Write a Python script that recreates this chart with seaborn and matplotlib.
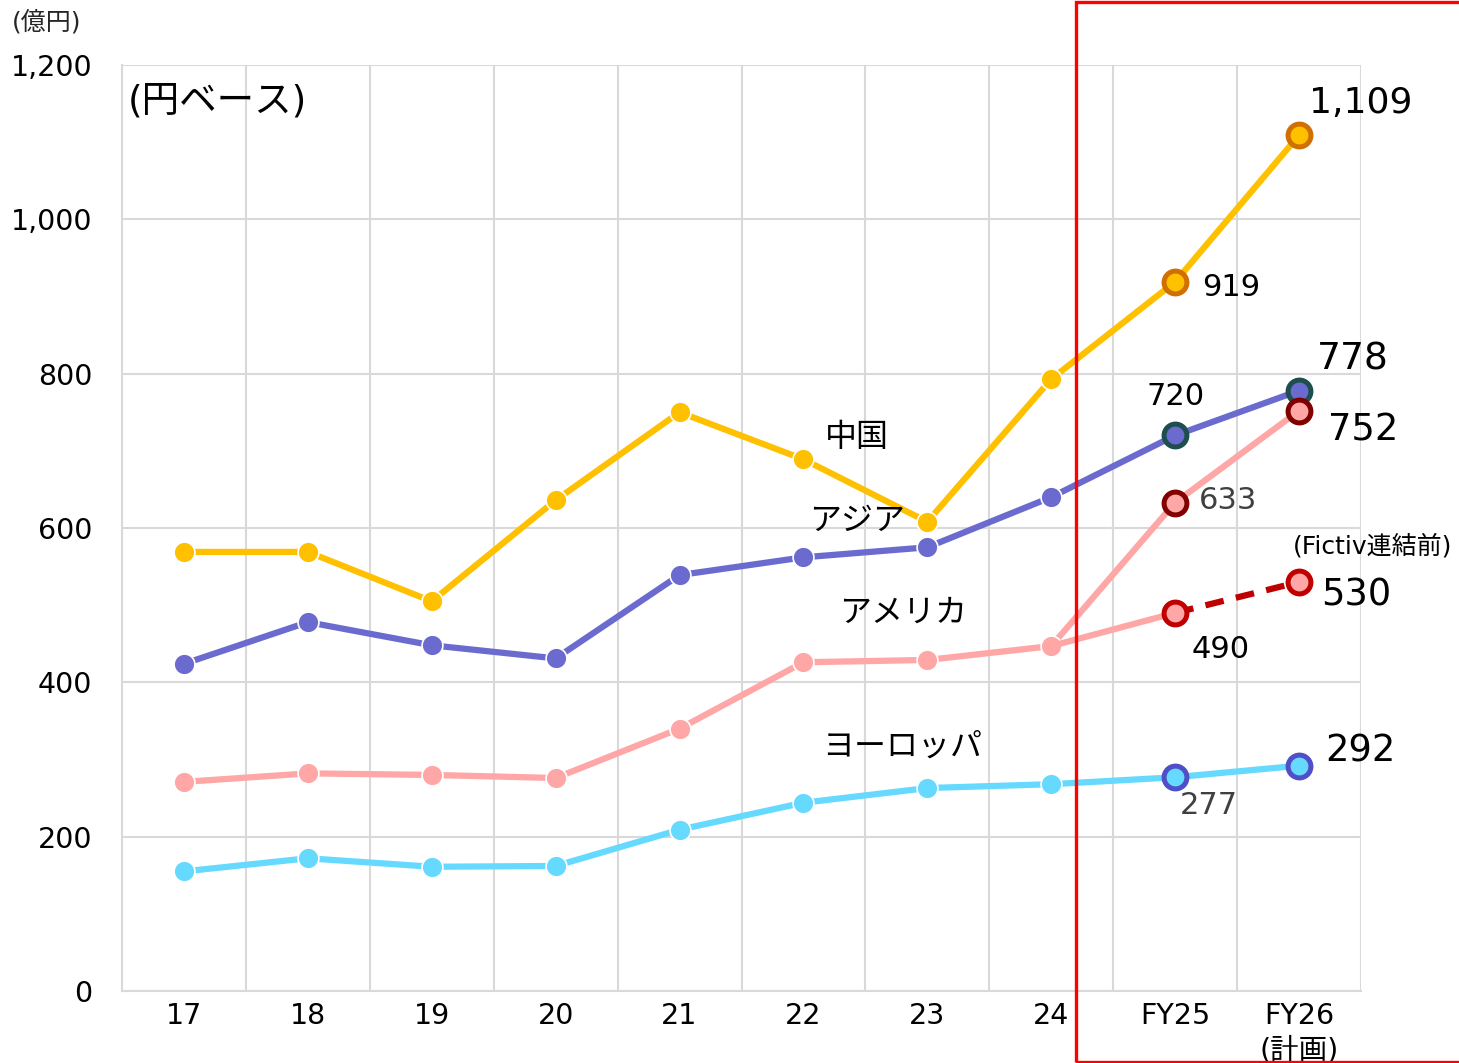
import matplotlib
matplotlib.use("Agg")
import matplotlib.pyplot as plt
import seaborn as sns
import pandas as pd
from matplotlib.patches import Rectangle

# data (億円)
years = ["17", "18", "19", "20", "21", "22", "23", "24", "FY25", "FY26\n(計画)"]
china = [569, 569, 505, 636, 750, 689, 608, 793, 919, 1109]
asia = [424, 478, 448, 431, 539, 562, 575, 640, 720, 778]
america = [271, 282, 280, 276, 340, 426, 429, 447, 633, 752]
america_pre = [447, 490, 530]   # 24, FY25, FY26 (Fictiv連結前)
europe = [155, 172, 161, 162, 209, 244, 263, 268, 277, 292]

sns.set_theme(style="white")
plt.rcParams["font.family"] = ["DejaVu Sans", "Noto Sans CJK JP"]

fig = plt.figure(figsize=(14.59, 10.63), dpi=100)
ax = fig.add_axes([122 / 1459, 1 - 991 / 1063, (1361 - 122) / 1459, (991 - 65) / 1063])

pos = list(range(len(years)))
df = pd.DataFrame({"pos": pos, "中国": china, "アジア": asia,
                   "アメリカ": america, "ヨーロッパ": europe})

c_china, c_asia, c_am, c_eu = "#FFC000", "#6B6BCF", "#FFA6A6", "#66D9FF"
lw, ms = 4.5, 15

for col, c in [("ヨーロッパ", c_eu), ("アメリカ", c_am), ("アジア", c_asia), ("中国", c_china)]:
    sns.lineplot(data=df, x="pos", y=col, ax=ax, color=c, linewidth=lw,
                 marker="o", markersize=ms, markeredgecolor="white", markeredgewidth=1.2)

# America before Fictiv consolidation
sns.lineplot(x=[7, 8], y=america_pre[:2], ax=ax, color=c_am, linewidth=lw)
sns.lineplot(x=[8, 9], y=america_pre[1:], ax=ax, color="#C00000", linewidth=lw,
             linestyle=(0, (3, 2)))

# highlighted forecast markers
special = [
    ([8, 9], china[8:], c_china, "#D07000"),
    ([8, 9], asia[8:], c_asia, "#1F4E4E"),
    ([8, 9], america[8:], c_am, "#800000"),
    ([8, 9], america_pre[1:], c_am, "#C00000"),
    ([8, 9], europe[8:], c_eu, "#4F4FC8"),
]
for xs, ys, fc, ec in special:
    sns.scatterplot(x=xs, y=ys, ax=ax, s=270, color=fc, edgecolor=ec,
                    linewidth=3.6, zorder=5)

ax.set_xlim(-0.5, 9.5)
ax.set_ylim(0, 1200)
ax.set_yticks(range(0, 1201, 200))
ax.set_yticklabels([f"{v:,}" for v in range(0, 1201, 200)])
ax.set_xticks(pos)
ax.set_xticklabels(years, linespacing=1.3)
ax.set_xticks([p + 0.5 for p in pos], minor=True)
ax.tick_params(axis="both", which="both", length=0, labelsize=20.5, colors="black")
ax.tick_params(axis="y", pad=21.5)
ax.tick_params(axis="x", pad=8)
ax.grid(axis="y", which="major", color="#D9D9D9", linewidth=1.5)
ax.grid(axis="x", which="minor", color="#D9D9D9", linewidth=1.5)
ax.grid(axis="x", which="major", visible=False)
for s in ax.spines.values():
    s.set_color("#D9D9D9")
    s.set_linewidth(1.5)
ax.spines["top"].set_visible(False)
ax.spines["right"].set_visible(False)
ax.set_xlabel("")
ax.set_ylabel("")

# value labels
labels = [
    (8.22, 912, "919", 22, "left", "black"),
    (9.5, 1151, "1,109", 26, "center", "black"),
    (8.0, 771, "720", 22, "center", "black"),
    (9.43, 819, "778", 27, "center", "black"),
    (9.23, 727, "752", 26.5, "left", "black"),
    (8.19, 636, "633", 22, "left", "#404040"),
    (9.59, 577, "(Fictiv連結前)", 18, "center", "black"),
    (9.18, 513, "530", 26.5, "left", "black"),
    (8.37, 443, "490", 22, "center", "black"),
    (9.21, 311, "292", 26.5, "left", "black"),
    (8.27, 240, "277", 22, "center", "#404040"),
    (5.43, 717, "中国", 23, "center", "black"),
    (5.43, 608, "アジア", 23, "center", "black"),
    (5.80, 490, "アメリカ", 23, "center", "black"),
    (5.80, 316, "ヨーロッパ", 23, "center", "black"),
    (-0.45, 1153, "(円ベース)", 27, "left", "black"),
]
for x, y, t, fs, ha, c in labels:
    ax.text(x, y, t, fontsize=fs, ha=ha, va="center", color=c, clip_on=False, zorder=6)

fig.text(12 / 1459, 1 - 22 / 1063, "(億円)", fontsize=18, ha="left", va="center")

fig.patches.append(Rectangle((1076 / 1459, 1.5 / 1063), 0.5, 1 - 3 / 1063,
                             transform=fig.transFigure, fill=False,
                             edgecolor="#FF0000", linewidth=2.4))

fig.savefig("out.png", dpi=100)
